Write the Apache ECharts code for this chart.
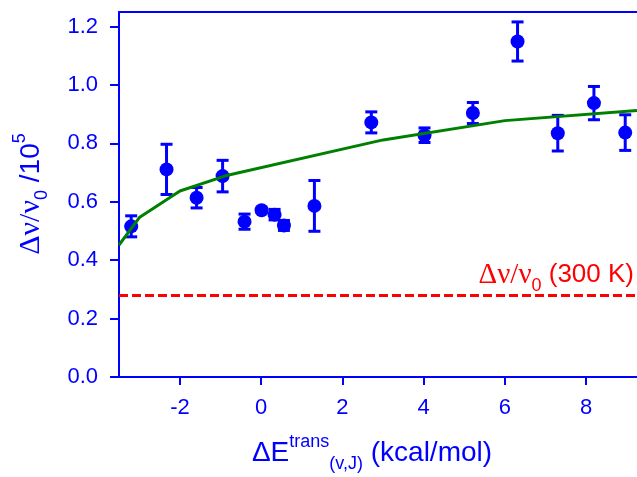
<!DOCTYPE html>
<html>
<head>
<meta charset="utf-8">
<script src="https://cdn.jsdelivr.net/npm/echarts@6/dist/echarts.min.js"></script>
<style>
  html, body { margin: 0; padding: 0; background: #ffffff; }
  #chart { width: 637px; height: 477px; }
</style>
</head>
<body>
<div id="chart"></div>
<script>
// Measured line shifts vs. translational energy change, with 1σ error bars
const energies    = [-3.20, -2.33, -1.59, -0.95, -0.41, 0.01, 0.33, 0.56, 1.31, 2.71, 4.02, 5.21, 6.31, 7.30, 8.19, 8.96];
const shifts      = [0.516, 0.711, 0.614, 0.688, 0.532, 0.571, 0.556, 0.519, 0.586, 0.872, 0.828, 0.904, 1.149, 0.835, 0.938, 0.837];
const shiftErrors = [0.036, 0.086, 0.035, 0.054, 0.026, 0.008, 0.018, 0.017, 0.087, 0.036, 0.025, 0.036, 0.067, 0.061, 0.057, 0.061];

// Model curve
const fitEnergies = [-3.5, -3.0, -2.0, -0.88, 3.0, 6.0, 9.25];
const fitShifts   = [0.452, 0.546, 0.637, 0.689, 0.812, 0.878, 0.913];

// Thermal (300 K) reference level
const thermalShift = 0.277;

// Axis ticks
const xTicks = [-2, 0, 2, 4, 6, 8];
const yTicks = [0, 0.2, 0.4, 0.6, 0.8, 1.0, 1.2];

const BLUE = '#0000ff';
const GREEN = '#008000';
const RED = '#ff0000';
const SANS = 'Liberation Sans, Arial, sans-serif';
const SERIF = 'Liberation Serif, Times New Roman, serif';

const chart = echarts.init(document.getElementById('chart'), null, { renderer: 'canvas' });

const axisCommon = {
  axisLine: { show: true, onZero: false, lineStyle: { color: BLUE, width: 2 } },
  splitLine: { show: false },
};

// rich-text pieces for titles (graphic text uses "fill" for colour)
function piece(family, size, lineHeight, vAlign, c) {
  return { fontFamily: family, fontSize: size, lineHeight: lineHeight, verticalAlign: vAlign, fill: c, color: c };
}
const mainFont  = c => piece(SANS, 28, 40, 'middle', c);
const greekFont = c => piece(SERIF, 30, 40, 'middle', c);
const supFont   = c => piece(SANS, 18, 18, 'top', c);
const subFont   = c => piece(SANS, 18, 18, 'bottom', c);

const option = {
  animation: false,
  backgroundColor: '#ffffff',
  grid: { left: 119, top: 12, right: 0, bottom: 100, outerBoundsMode: 'none' },
  xAxis: [
    Object.assign({}, axisCommon, {
      type: 'value',
      position: 'bottom',
      min: -3.5, max: 9.25,
      axisTick: { show: true, inside: false, length: 8, customValues: xTicks, lineStyle: { color: BLUE, width: 2 } },
      axisLabel: {
        customValues: xTicks, margin: 20, color: BLUE, fontFamily: SANS, fontSize: 22,
        formatter: v => String(v)
      }
    }),
    Object.assign({}, axisCommon, {
      type: 'value',
      position: 'top',
      min: -3.5, max: 9.25,
      axisTick: { show: false },
      axisLabel: { show: false }
    })
  ],
  yAxis: Object.assign({}, axisCommon, {
    type: 'value',
    min: 0, max: 1.25,
    axisTick: { show: true, inside: false, length: 9, customValues: yTicks, lineStyle: { color: BLUE, width: 2 } },
    axisLabel: {
      customValues: yTicks, margin: 21, color: BLUE, fontFamily: SANS, fontSize: 22,
      formatter: v => v.toFixed(1)
    }
  }),
  series: [
    {
      name: 'error',
      type: 'custom',
      z: 2,
      data: energies.map((x, i) => [x, shifts[i], shiftErrors[i]]),
      encode: { x: 0, y: 1 },
      renderItem(params, api) {
        const x = api.value(0), y = api.value(1), e = api.value(2);
        const hi = api.coord([x, y + e]);
        const lo = api.coord([x, y - e]);
        const w = 6;
        const style = { stroke: BLUE, lineWidth: 3 };
        return {
          type: 'group',
          children: [
            { type: 'line', shape: { x1: hi[0], y1: hi[1], x2: lo[0], y2: lo[1] }, style },
            { type: 'line', shape: { x1: hi[0] - w, y1: hi[1], x2: hi[0] + w, y2: hi[1] }, style },
            { type: 'line', shape: { x1: lo[0] - w, y1: lo[1], x2: lo[0] + w, y2: lo[1] }, style }
          ]
        };
      }
    },
    {
      name: 'measured',
      type: 'scatter',
      z: 3,
      symbol: 'circle',
      symbolSize: 14,
      itemStyle: { color: BLUE, opacity: 1 },
      data: energies.map((x, i) => [x, shifts[i]])
    },
    {
      name: 'model',
      type: 'line',
      z: 4,
      showSymbol: false,
      symbol: 'none',
      lineStyle: { color: GREEN, width: 3 },
      data: fitEnergies.map((x, i) => [x, fitShifts[i]]),
      markLine: {
        silent: true,
        symbol: ['none', 'none'],
        label: { show: false },
        lineStyle: { color: RED, width: 3, type: [9, 4] },
        data: [{ yAxis: thermalShift }]
      }
    }
  ],
  graphic: [
    {
      // y-axis title
      type: 'text',
      x: 31, y: 194,
      rotation: Math.PI / 2,
      style: {
        text: '{g|Δν/ν}{sub|0}{m| /10}{sup|5}',
        align: 'center', verticalAlign: 'middle',
        fill: BLUE,
        rich: { g: greekFont(BLUE), m: mainFont(BLUE), sub: subFont(BLUE), sup: supFont(BLUE) }
      }
    },
    {
      // x-axis title
      type: 'text',
      x: 372, y: 453,
      style: {
        text: '{m|ΔE}{sup|trans}{sub|(v,J)}{m| (kcal/mol)}',
        align: 'center', verticalAlign: 'middle',
        fill: BLUE,
        rich: { m: mainFont(BLUE), sub: subFont(BLUE), sup: supFont(BLUE) }
      }
    },
    {
      // reference level label
      type: 'text',
      x: 634, y: 275,
      style: {
        text: '{g|Δν/ν}{sub|0}{m| (300 K)}',
        align: 'right', verticalAlign: 'middle',
        fill: RED,
        rich: {
          g: Object.assign(greekFont(RED), { fontSize: 29 }),
          m: Object.assign(mainFont(RED), { fontSize: 26 }),
          sub: subFont(RED)
        }
      }
    }
  ]
};

chart.setOption(option);
</script>
</body>
</html>
